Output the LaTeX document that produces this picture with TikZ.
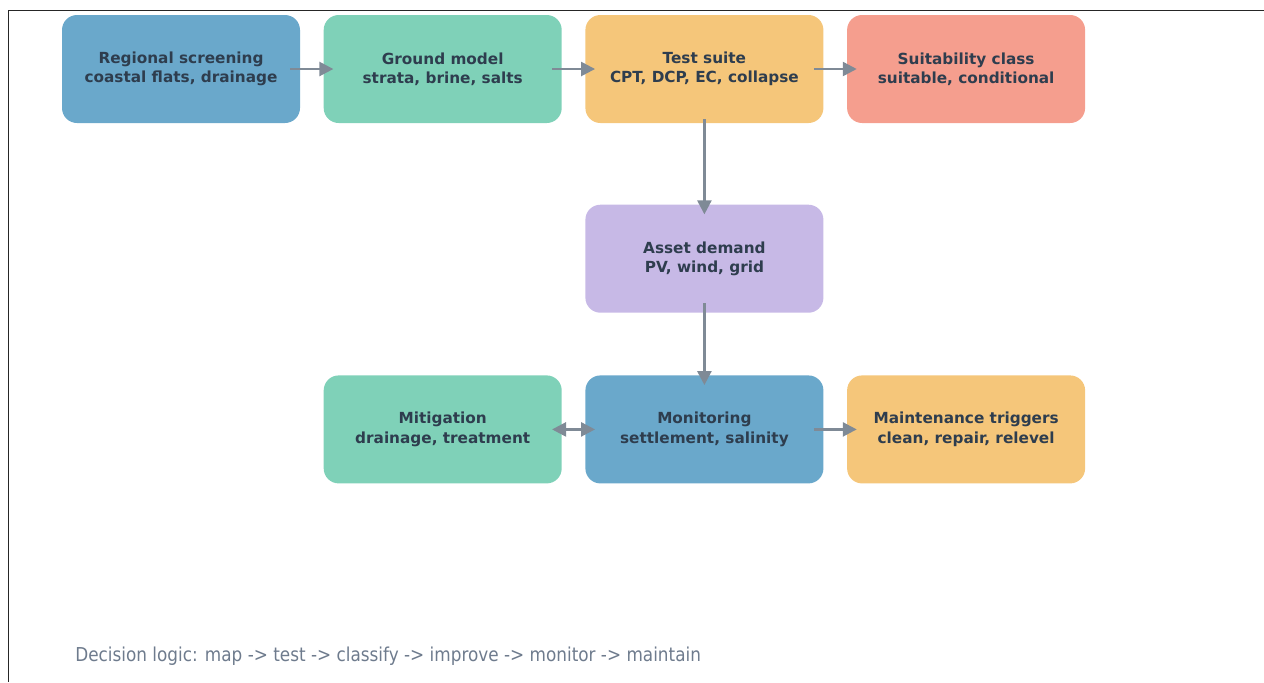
\documentclass[tikz,border=0pt]{standalone}
\usepackage{fontspec}
\setmainfont{DejaVu Sans}
\newfontfamily\notefont[FakeStretch=0.88]{DejaVu Sans}
\usetikzlibrary{arrows.meta,positioning}
\definecolor{boxblue}{HTML}{6AA8CB}
\definecolor{boxgreen}{HTML}{7FD1B8}
\definecolor{boxorange}{HTML}{F5C67A}
\definecolor{boxsalmon}{HTML}{F59E8E}
\definecolor{boxpurple}{HTML}{C7B9E6}
\definecolor{txtdark}{HTML}{2E3D4E}
\definecolor{arrowgray}{HTML}{7F8A96}
\definecolor{notegray}{HTML}{6E7B8D}

\begin{document}
\begin{tikzpicture}[node distance=0.46cm,main node/.style={rounded corners=0.3cm,minimum width=4.76cm,minimum height=2.16cm,align=center,text=txtdark,font=\bfseries\fontsize{8.7}{11}\selectfont}]
	\useasboundingbox (0,0) rectangle (25.28,-13.64);
	\draw[line width=0.02cm,black!85] (25.28,-0.2) -- (0.16,-0.2) -- (0.16,-13.64);

	\node[main node,fill=boxblue] (1) at (3.62,-1.38) {Regional screening\\coastal flats, drainage};
	\node[main node,fill=boxgreen] (2) [right=of 1] {Ground model\\strata, brine, salts};
	\node[main node,fill=boxorange] (3) [right=of 2] {Test suite\\CPT, DCP, EC, collapse};
	\node[main node,fill=boxsalmon] (4) [right=of 3] {Suitability class\\suitable, conditional};
	\node[main node,fill=boxpurple] (5) [below=1.62cm of 3] {Asset demand\\PV, wind, grid};
	\node[main node,fill=boxblue] (6) [below=1.24cm of 5] {Monitoring\\settlement, salinity};
	\node[main node,fill=boxgreen] (7) [left=of 6] {Mitigation\\drainage, treatment};
	\node[main node,fill=boxorange] (8) [right=of 6] {Maintenance triggers\\clean, repair, relevel};

	\path[->,>={Triangle[length=0.28cm,width=0.28cm]},line width=0.05cm,color=arrowgray,shorten >=-0.2cm,shorten <=-0.2cm]
		(1) edge (2)
		(2) edge (3)
		(3) edge (4)
			edge [shorten <=-0.08cm] (5)
		(5) edge (6)
		(6) edge (8)
		(7) edge [<->] (6);

	\node[anchor=west,inner sep=0pt,text=notegray,font=\notefont\fontsize{10.9}{12}\selectfont] (note) at (1.5,-13.12) {Decision logic: map -> test -> classify -> improve -> monitor -> maintain};
\end{tikzpicture}
\end{document}
